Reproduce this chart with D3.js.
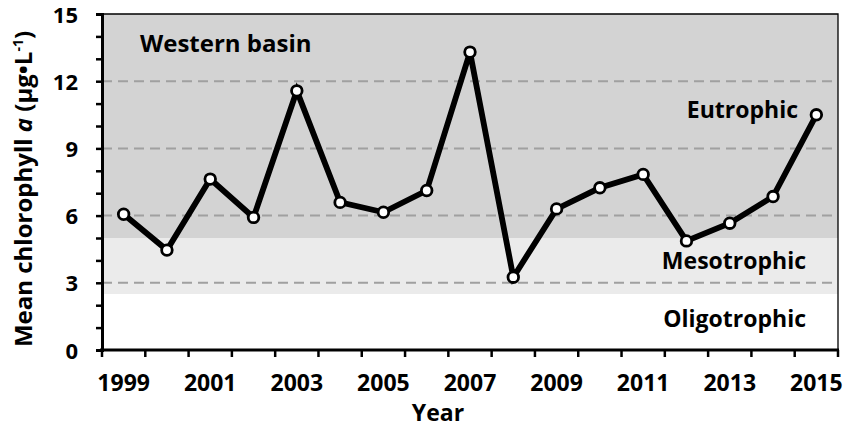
<!DOCTYPE html>
<html><head><meta charset="utf-8">
<script src="https://cdn.jsdelivr.net/npm/d3@7"></script>
<style>body{margin:0;background:#fff}svg text{font-family:"Open Sans",sans-serif;font-weight:bold;fill:#000}</style>
</head><body>
<svg id="c" width="846" height="427"></svg>
<script>
const years = ["1999","2000","2001","2002","2003","2004","2005","2006","2007","2008","2009","2010","2011","2012","2013","2014","2015"];
const chl = [6.06,4.46,7.63,5.92,11.57,6.59,6.15,7.12,13.3,3.25,6.3,7.24,7.84,4.87,5.66,6.85,10.5];
const yTicks = [0,3,6,9,12,15];
const gridValues = [3,6,9,12];
const zones = [{name:"Eutrophic",lo:5,hi:15,color:"#d3d3d3"},{name:"Mesotrophic",lo:2.5,hi:5,color:"#ebebeb"},{name:"Oligotrophic",lo:0,hi:2.5,color:"#ffffff"}];

const svg = d3.select("#c");
const L=102,R=838,T=14,B=350;
const x = d3.scaleBand().domain(years).range([L,R]);
const y = d3.scaleLinear().domain([0,15]).range([B,T]);

svg.selectAll("rect.z").data(zones).join("rect")
  .attr("x",L).attr("width",R-L).attr("y",d=>y(d.hi)).attr("height",d=>y(d.lo)-y(d.hi)).attr("fill",d=>d.color);

svg.selectAll("line.g").data(gridValues).join("line")
  .attr("x1",L).attr("x2",R).attr("y1",d=>y(d)).attr("y2",d=>y(d))
  .attr("stroke","#a0a0a0").attr("stroke-width",2).attr("stroke-dasharray","10,6");

svg.append("path").attr("d",`M${L},${T}H${R}V${B}`).attr("fill","none").attr("stroke","#000").attr("stroke-width",1.3);

const ya = d3.axisLeft(y).tickValues(d3.range(0,16,1)).tickSize(6).tickFormat(d=>yTicks.includes(d)?d:"");
const gy = svg.append("g").attr("transform",`translate(${L},0)`).call(ya);
gy.select(".domain").attr("stroke-width",3);
gy.selectAll(".tick line").attr("stroke-width",2.5);
gy.selectAll(".tick text").attr("font-size",22).attr("x",-24).attr("dy","0.37em");

const gx = svg.append("g").attr("transform",`translate(0,${B})`);
gx.append("line").attr("x1",L-2).attr("x2",R+1).attr("stroke","#000").attr("stroke-width",3);
const bounds = years.map(d=>x(d)).concat([R]);
gx.selectAll("line.t").data(bounds).join("line").attr("x1",d=>d).attr("x2",d=>d).attr("y1",0).attr("y2",7).attr("stroke","#000").attr("stroke-width",2.5);
gx.selectAll("text").data(years.filter((d,i)=>i%2===0)).join("text")
  .attr("x",d=>x(d)+x.bandwidth()/2).attr("y",41).attr("text-anchor","middle").attr("font-size",23).text(d=>d);

const line = d3.line().x((d,i)=>x(years[i])+x.bandwidth()/2).y(d=>y(d));
svg.append("path").datum(chl).attr("d",line).attr("fill","none").attr("stroke","#000").attr("stroke-width",5.8).attr("stroke-linejoin","miter");
svg.selectAll("circle").data(chl).join("circle")
  .attr("cx",(d,i)=>x(years[i])+x.bandwidth()/2).attr("cy",d=>y(d)).attr("r",5.3)
  .attr("fill","#fff").attr("stroke","#000").attr("stroke-width",2.8);

svg.append("text").attr("x",140).attr("y",52).attr("font-size",24).text("Western basin");
svg.append("text").attr("x",798).attr("y",118).attr("text-anchor","end").attr("font-size",23).text("Eutrophic");
svg.append("text").attr("x",806).attr("y",269).attr("text-anchor","end").attr("font-size",23).text("Mesotrophic");
svg.append("text").attr("x",806).attr("y",327).attr("text-anchor","end").attr("font-size",23).text("Oligotrophic");

svg.append("text").attr("x",438).attr("y",421).attr("text-anchor","middle").attr("font-size",23).text("Year");
const yl = svg.append("text").attr("transform",`translate(32,${(T+B)/2+7}) rotate(-90)`).attr("text-anchor","middle").attr("font-size",24);
yl.append("tspan").text("Mean chlorophyll ");
yl.append("tspan").attr("font-style","italic").text("a");
yl.append("tspan").text(" (μg•L");
yl.append("tspan").attr("font-size",14).attr("dy",-9).text("-1");
yl.append("tspan").attr("dy",9).text(")");
</script>
</body></html>
